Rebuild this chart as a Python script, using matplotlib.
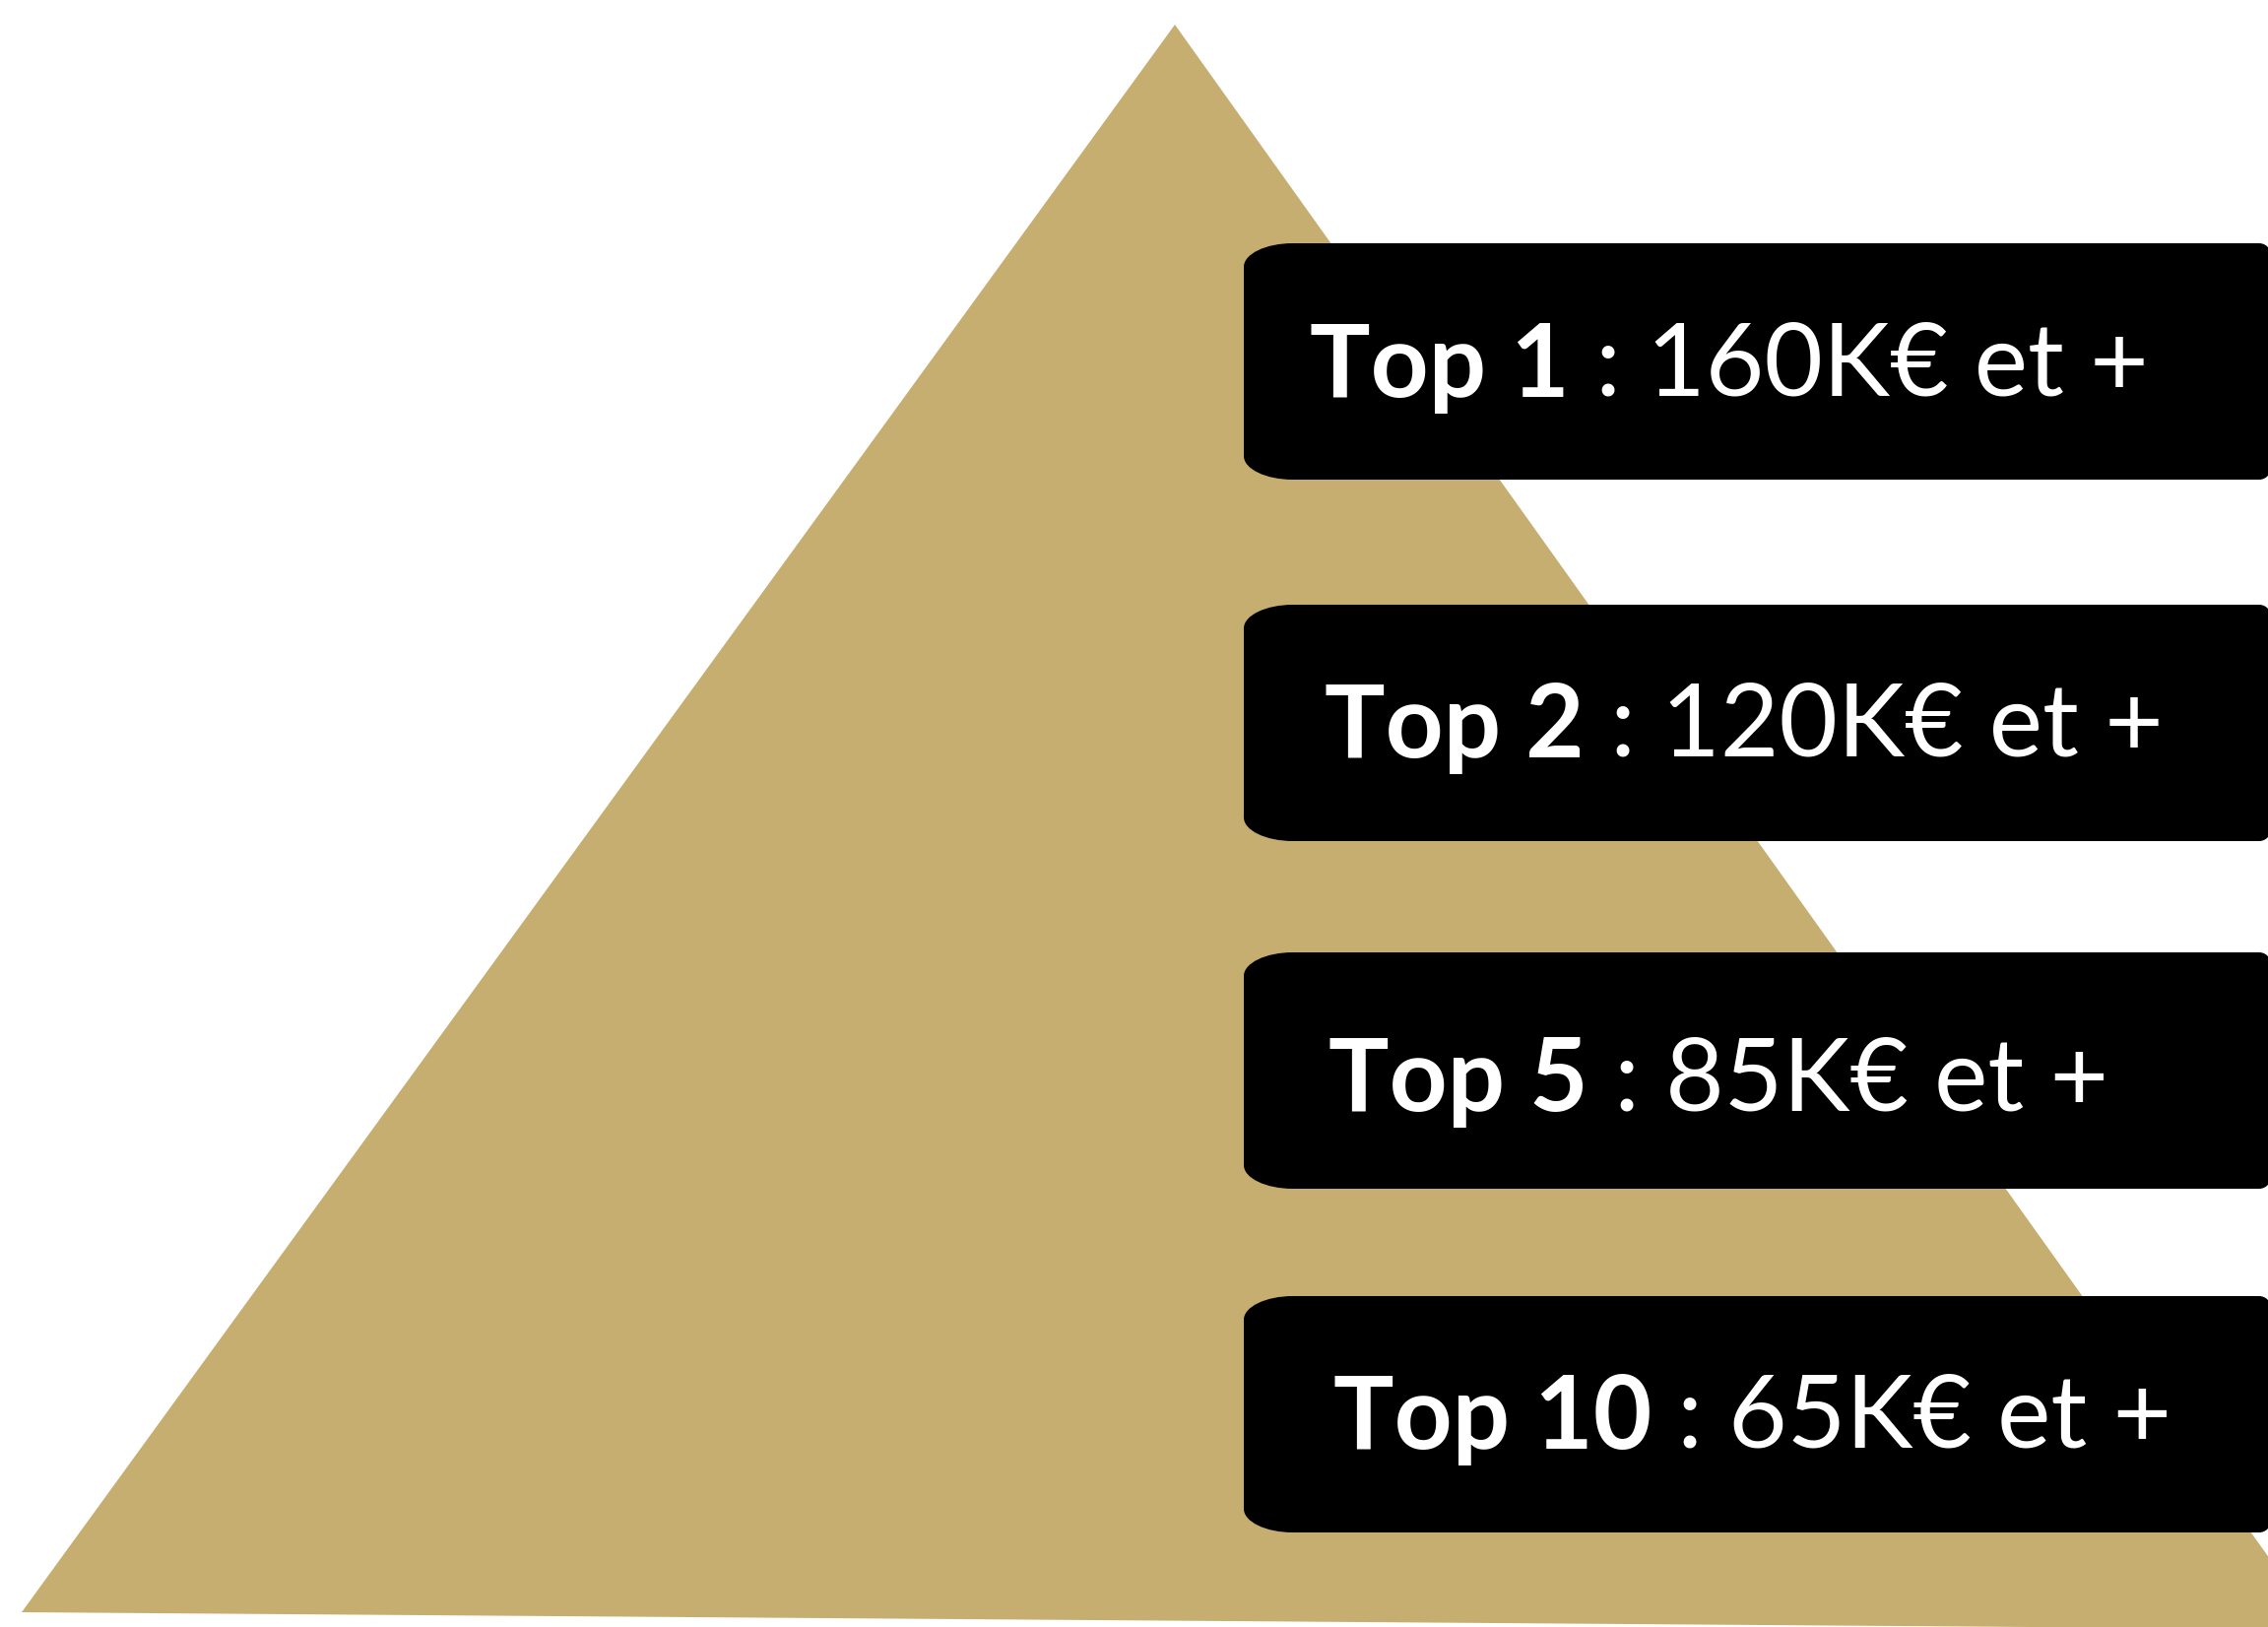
import numpy as np
from matplotlib import pyplot as plt
from matplotlib.path import Path
from matplotlib.patches import Polygon, PathPatch

# salary tiers shown on the pyramid
tiers = ["Top 1", "Top 2", "Top 5", "Top 10"]
amounts_k = [160, 120, 85, 65]

W, H = 2303, 1652
gold = '#C6AE71'

# layout in pixels
box_top = [247, 614, 967, 1316]
box_h = 240
box_left = 1263
box_right = 2306
text_x = [1330, 1345, 1349, 1354]
baseline = [403, 769, 1128, 1471]
fs = 74


def box_path(x0, y0, x1, y1, rxl, ryl, rr):
    # rounded box: wide elliptic corners on the left, small ones on the right
    k = 0.5523
    verts = [
        (x0 + rxl, y0),
        (x1 - rr, y0),
        (x1 - rr + k*rr, y0), (x1, y0 + rr - k*rr), (x1, y0 + rr),
        (x1, y1 - rr),
        (x1, y1 - rr + k*rr), (x1 - rr + k*rr, y1), (x1 - rr, y1),
        (x0 + rxl, y1),
        (x0 + rxl - k*rxl, y1), (x0, y1 - ryl + k*ryl), (x0, y1 - ryl),
        (x0, y0 + ryl),
        (x0, y0 + ryl - k*ryl), (x0 + rxl - k*rxl, y0), (x0 + rxl, y0),
        (x0 + rxl, y0),
    ]
    codes = [Path.MOVETO, Path.LINETO,
             Path.CURVE4, Path.CURVE4, Path.CURVE4,
             Path.LINETO,
             Path.CURVE4, Path.CURVE4, Path.CURVE4,
             Path.LINETO,
             Path.CURVE4, Path.CURVE4, Path.CURVE4,
             Path.LINETO,
             Path.CURVE4, Path.CURVE4, Path.CURVE4,
             Path.CLOSEPOLY]
    return Path(verts, codes)


fig = plt.figure(figsize=(W/100, H/100), dpi=100)
ax = fig.add_axes([0, 0, 1, 1])
ax.set_xlim(0, W)
ax.set_ylim(H, 0)
ax.axis('off')

# the pyramid
tri = Polygon([(1193, 25), (22, 1637), (2335, 1654), (2335, 1625)],
              closed=True, facecolor=gold, edgecolor='none')
ax.add_patch(tri)

for i, (tier, amt) in enumerate(zip(tiers, amounts_k)):
    y0 = box_top[i]
    y1 = y0 + box_h
    ax.add_patch(PathPatch(box_path(box_left, y0, box_right, y1, 50, 24, 12),
                           facecolor='black', edgecolor='none'))
    t1 = ax.text(text_x[i], baseline[i], tier, color='white', fontsize=fs,
                 fontweight='bold', family=['Lato', 'DejaVu Sans'],
                 ha='left', va='baseline')
    ax.annotate(" : %dK€ et +" % amt, xy=(1, 0), xycoords=t1,
                color='white', fontsize=fs, family=['Lato', 'DejaVu Sans'],
                ha='left', va='bottom')

fig.savefig('out.png', dpi=100)
